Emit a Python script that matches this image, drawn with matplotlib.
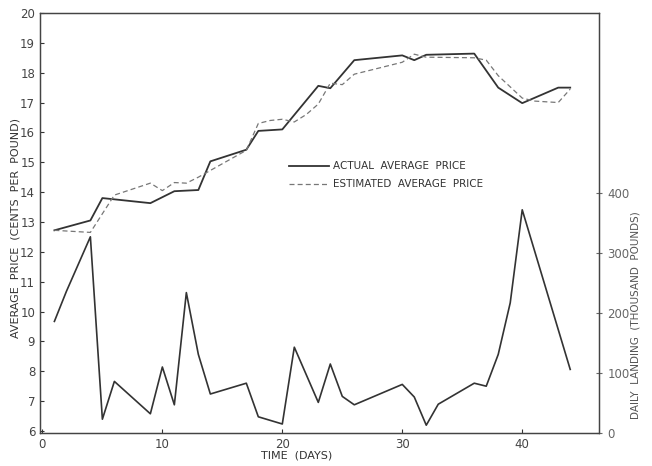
import matplotlib
matplotlib.use("Agg")
import matplotlib.pyplot as plt

# actual average price (cents per pound)
actual_days = [1, 4, 5, 9, 11, 13, 14, 17, 18, 20, 23, 24, 26, 30, 31, 32, 36, 38, 40, 43, 44]
actual_price = [12.72, 13.05, 13.8, 13.63, 14.03, 14.07, 15.03, 15.42, 16.05, 16.1, 17.56,
                17.48, 18.42, 18.58, 18.42, 18.6, 18.64, 17.5, 16.98, 17.5, 17.5]

# estimated average price
est_days = [1, 4, 6, 9, 10, 11, 12, 13, 17, 18, 19, 20, 21, 22, 23, 24, 25, 26,
            30, 31, 32, 36, 37, 38, 40, 41, 43, 44]
est_price = [12.72, 12.65, 13.9, 14.3, 14.05, 14.32, 14.3, 14.5, 15.4, 16.3, 16.4, 16.44,
             16.35, 16.6, 16.95, 17.65, 17.6, 17.95, 18.35, 18.62, 18.52, 18.5, 18.42,
             17.9, 17.15, 17.05, 17.0, 17.45]

# daily landing (thousand pounds)
land_days = [1, 2, 4, 5, 6, 9, 10, 11, 12, 13, 14, 17, 18, 20, 21, 23, 24, 25, 26,
             30, 31, 32, 33, 36, 37, 38, 39, 40, 44]
landing = [186, 236, 327, 23, 86, 32, 110, 47, 234, 131, 65, 83, 27, 15, 143, 51, 115,
           61, 47, 81, 60, 13, 48, 83, 78, 131, 217, 372, 106]

ink = '#333333'
plt.rcParams['font.family'] = ['DejaVu Sans']

fig = plt.figure(figsize=(6.52, 4.66), dpi=100)
ax = fig.add_axes([40/652, 1-433/466, 559/652, 420/466])
ax2 = ax.twinx()

ax.plot(actual_days, actual_price, color=ink, lw=1.3, label='ACTUAL  AVERAGE  PRICE')
ax.plot(est_days, est_price, color='#777777', lw=0.9, ls=(0, (4, 2.5)),
        label='ESTIMATED  AVERAGE  PRICE')
ax2.plot(land_days, landing, color=ink, lw=1.2)

ax.set_xlim(-0.2, 46.4)
ax.set_ylim(5.93, 20)
ax2.set_ylim(0, 700)

ax.set_xticks([0, 10, 20, 30, 40])
ax.set_yticks(range(6, 21))
ax2.set_yticks([0, 100, 200, 300, 400])

ax.tick_params(direction='in', length=3, labelsize=8.5, colors=ink, labelcolor='#444444')
ax2.tick_params(direction='inout', length=5, labelsize=8.5, colors='#666666',
                labelcolor='#666666')
for a in (ax, ax2):
    for s in a.spines.values():
        s.set_color('#444444')
        s.set_linewidth(0.9)

fig.text(297/652, 1-455/466, 'TIME  (DAYS)', ha='center', va='center', fontsize=8,
         color=ink)
fig.text(16/652, 1-228/466, 'AVERAGE  PRICE  (CENTS  PER  POUND)', rotation=90,
         ha='center', va='center', fontsize=8, color=ink)
fig.text(636/652, 1-315/466, 'DAILY  LANDING  (THOUSAND  POUNDS)', rotation=90,
         ha='center', va='center', fontsize=7.5, color='#555555')

ax.legend(frameon=False, loc='upper left', bbox_to_anchor=(280/652, 1-152/466),
          bbox_transform=fig.transFigure, fontsize=7.5, handlelength=3.8,
          handletextpad=0.4, labelspacing=0.75, labelcolor=ink)

fig.savefig('out.png', dpi=100)
